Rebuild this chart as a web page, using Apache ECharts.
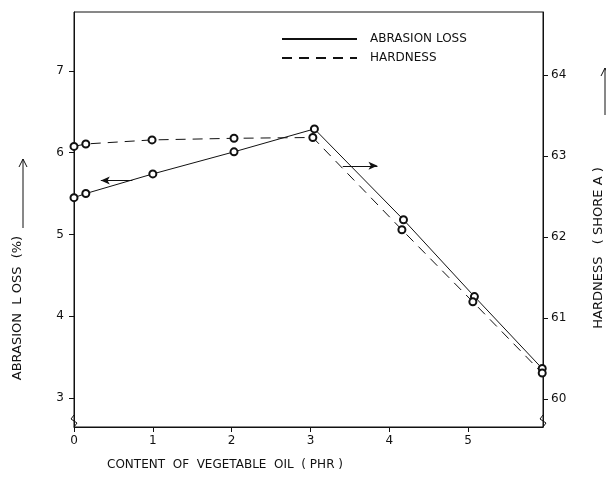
<!DOCTYPE html>
<html>
<head>
<meta charset="utf-8">
<script src="https://cdn.jsdelivr.net/npm/echarts@6/dist/echarts.min.js"></script>
<style>
  html, body { margin: 0; padding: 0; background: #fff; }
  #chart { width: 606px; height: 480px; }
</style>
</head>
<body>
<div id="chart"></div>
<script>
// oil content (phr) for each measured point
const xAbrasion = [0, 0.15, 1, 2.03, 3.05, 4.18, 5.08, 5.94];
const abrasionLoss = [5.45, 5.5, 5.74, 6.01, 6.29, 5.18, 4.24, 3.36];
const xHardness = [0, 0.15, 0.99, 2.03, 3.03, 4.16, 5.06, 5.94];
const hardness = [63.12, 63.15, 63.2, 63.22, 63.23, 62.09, 61.2, 60.32];

const leftTicks = [3, 4, 5, 6, 7];
const rightTicks = [60, 61, 62, 63, 64];

const ink = '#111';
const font = 'DejaVu Sans';

const chart = echarts.init(document.getElementById('chart'), null, { renderer: 'canvas' });

function pairs(xs, ys) {
    return xs.map((x, i) => [x, ys[i]]);
}

const axisCommon = {
    axisLine: { show: true, lineStyle: { color: ink, width: 1 } },
    axisTick: { show: true, inside: false, length: 5, lineStyle: { color: ink } },
    splitLine: { show: false },
    axisLabel: { color: ink, fontFamily: font, fontSize: 12 }
};

const option = {
    animation: false,
    backgroundColor: '#fff',
    grid: { left: 74, right: 63, top: 12, bottom: 53, show: true, borderColor: ink, borderWidth: 1 },
    legend: {
        orient: 'vertical',
        left: 276,
        top: 28,
        itemWidth: 75,
        itemHeight: 12,
        itemGap: 7,
        itemStyle: { opacity: 0 },
        textStyle: { color: ink, fontFamily: font, fontSize: 12, padding: [0, 0, 0, 8] },
        data: ['ABRASION LOSS', 'HARDNESS']
    },
    xAxis: Object.assign({}, axisCommon, {
        type: 'value',
        min: 0,
        max: 5.95,
        interval: 1,
        axisLabel: Object.assign({}, axisCommon.axisLabel, { margin: 8, showMaxLabel: false })
    }),
    yAxis: [
        Object.assign({}, axisCommon, {
            type: 'value',
            position: 'left',
            min: 2.645,
            max: 7.72,
            axisTick: Object.assign({}, axisCommon.axisTick, { customValues: leftTicks }),
            axisLabel: Object.assign({}, axisCommon.axisLabel, { customValues: leftTicks, margin: 10 })
        }),
        Object.assign({}, axisCommon, {
            type: 'value',
            position: 'right',
            min: 59.654,
            max: 64.78,
            axisTick: Object.assign({}, axisCommon.axisTick, { customValues: rightTicks }),
            axisLabel: Object.assign({}, axisCommon.axisLabel, { customValues: rightTicks, margin: 8 })
        })
    ],
    series: [
        {
            name: 'ABRASION LOSS',
            type: 'line',
            yAxisIndex: 0,
            data: pairs(xAbrasion, abrasionLoss),
            symbol: 'emptyCircle',
            symbolSize: 7,
            itemStyle: { color: ink, borderWidth: 1 },
            lineStyle: { color: ink, width: 1 },
            markLine: {
                silent: true,
                symbol: ['arrow', 'none'],
                symbolSize: [6, 9],
                label: { show: false },
                lineStyle: { color: ink, width: 1, type: 'solid' },
                data: [[{ coord: [0.34, 5.66] }, { coord: [0.74, 5.66] }]]
            }
        },
        {
            name: 'HARDNESS',
            type: 'line',
            yAxisIndex: 1,
            data: pairs(xHardness, hardness),
            symbol: 'emptyCircle',
            symbolSize: 7,
            itemStyle: { color: ink, borderWidth: 1 },
            lineStyle: { color: ink, width: 1, type: [10, 7] },
            markLine: {
                silent: true,
                symbol: ['none', 'arrow'],
                symbolSize: [6, 9],
                label: { show: false },
                lineStyle: { color: ink, width: 1, type: 'solid' },
                data: [[{ coord: [3.41, 62.88] }, { coord: [3.85, 62.88] }]]
            }
        }
    ],
    graphic: [
        // axis titles
        {
            type: 'text', x: 18, y: 308, rotation: Math.PI / 2,
            style: { text: 'ABRASION  L OSS  (%)', fill: ink, font: '13px "DejaVu Sans"', align: 'center', verticalAlign: 'middle' }
        },
        { type: 'polyline', shape: { points: [[23, 228], [23, 159]] }, style: { stroke: ink, lineWidth: 1 } },
        { type: 'polyline', shape: { points: [[19, 167], [23, 159], [27, 167]] }, style: { stroke: ink, lineWidth: 1, fill: null } },
        {
            type: 'text', x: 599, y: 248, rotation: Math.PI / 2,
            style: { text: 'HARDNESS   ( SHORE A )', fill: ink, font: '13px "DejaVu Sans"', align: 'center', verticalAlign: 'middle' }
        },
        { type: 'polyline', shape: { points: [[605, 115], [605, 68]] }, style: { stroke: ink, lineWidth: 1 } },
        { type: 'polyline', shape: { points: [[601, 76], [605, 68], [609, 76]] }, style: { stroke: ink, lineWidth: 1, fill: null } },
        {
            type: 'text', x: 225, y: 465,
            style: { text: 'CONTENT  OF  VEGETABLE  OIL  ( PHR )', fill: ink, font: '12px "DejaVu Sans"', align: 'center', verticalAlign: 'middle' }
        },
        // axis break marks
        { type: 'polyline', shape: { points: [[74, 415], [71, 419], [77, 423], [74, 427]] }, style: { stroke: ink, lineWidth: 1, fill: null } },
        { type: 'polyline', shape: { points: [[543, 415], [540, 419], [546, 423], [543, 427]] }, style: { stroke: ink, lineWidth: 1, fill: null } }
    ]
};

chart.setOption(option);
</script>
</body>
</html>
